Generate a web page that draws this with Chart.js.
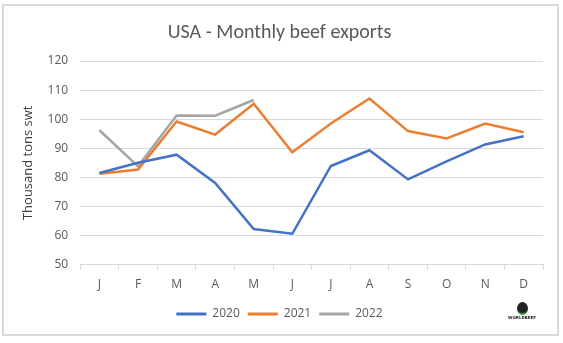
<!DOCTYPE html>
<html>
<head>
<meta charset="utf-8">
<script src="https://cdn.jsdelivr.net/npm/chart.js@4.4.0/dist/chart.umd.min.js"></script>
<style>
  body { margin: 0; background: #fff; }
  #wrap { position: relative; width: 563px; height: 343px; }
  #frame { position: absolute; left: 2px; top: 4px; width: 553px; height: 328px; border: 2px solid #d9d9d9; pointer-events: none; }
  #logo { position: absolute; left: 505px; top: 302px; width: 34px; text-align: center; font-family: "DejaVu Sans", sans-serif; }
  #logo .globe { width: 11px; height: 11px; margin: 0 auto; border-radius: 50%; background: #222; border-bottom: 2px solid #2e9a3a; }
  #logo .txt { font-size: 4px; font-weight: bold; color: #222; line-height: 5px; }
</style>
</head>
<body>
<div id="wrap">
  <canvas id="beefExportsGraph" width="563" height="343"></canvas>
  <div id="frame"></div>
  <div id="logo"><div class="globe"></div><div class="txt">WORLDBEEF</div></div>
</div>
<script>
// chart data
const months = ["J", "F", "M", "A", "M", "J", "J", "A", "S", "O", "N", "D"];
const exports2020 = [81.5, 85.0, 87.8, 78.1, 62.2, 60.6, 83.9, 89.3, 79.3, 85.5, 91.3, 94.1];
const exports2021 = [81.2, 82.7, 99.2, 94.7, 105.3, 88.6, 98.5, 107.1, 95.9, 93.4, 98.5, 95.5];
const exports2022 = [96.2, 83.8, 101.3, 101.2, 106.6];
const yTicks = [50, 60, 70, 80, 90, 100, 110, 120];

const textColor = "#595959";
const gridColor = "#d9d9d9";

function make_dataset(label, values, color) {
    return {
        label: label,
        data: values,
        borderColor: color,
        backgroundColor: color,
        borderWidth: 2.5,
        pointRadius: 0,
        tension: 0,
        fill: false
    };
}

const config = {
    type: "line",
    data: {
        labels: months,
        datasets: [
            make_dataset("2020", exports2020, "#4472C4"),
            make_dataset("2021", exports2021, "#ED7D31"),
            make_dataset("2022", exports2022, "#A5A5A5")
        ]
    },
    options: {
        responsive: false,
        animation: false,
        layout: { padding: { left: 16, right: 20, top: 19, bottom: 13 } },
        plugins: {
            title: {
                display: true,
                text: "USA - Monthly beef exports",
                color: textColor,
                font: { family: "Calibri, Carlito, 'Open Sans', sans-serif", size: 20, weight: "normal" },
                padding: { top: 2, bottom: 16 }
            },
            legend: {
                position: "bottom",
                labels: {
                    color: textColor,
                    font: { family: "'Open Sans', sans-serif", size: 12 },
                    boxWidth: 30,
                    boxHeight: 0,
                    padding: 8,
                    generateLabels: chart => chart.data.datasets.map((ds, i) => ({
                        text: ds.label,
                        fillStyle: ds.borderColor,
                        strokeStyle: ds.borderColor,
                        lineWidth: 3,
                        fontColor: textColor,
                        datasetIndex: i
                    }))
                }
            },
            tooltip: { enabled: false }
        },
        scales: {
            x: {
                offset: true,
                grid: {
                    offset: true,
                    drawOnChartArea: false,
                    drawTicks: true,
                    tickLength: 5,
                    color: gridColor
                },
                border: { color: gridColor },
                ticks: {
                    color: textColor,
                    font: { family: "'Open Sans', sans-serif", size: 12 },
                    padding: 8,
                    maxRotation: 0,
                    autoSkip: false
                }
            },
            y: {
                min: yTicks[0],
                max: yTicks[yTicks.length - 1],
                afterBuildTicks: axis => { axis.ticks = yTicks.map(v => ({ value: v })); },
                grid: { color: gridColor, drawTicks: false },
                border: { display: false },
                ticks: {
                    color: textColor,
                    font: { family: "'Open Sans', sans-serif", size: 12 },
                    padding: 12
                },
                title: {
                    display: true,
                    text: "Thousand tons swt",
                    color: "#404040",
                    font: { family: "'Open Sans', sans-serif", size: 13 },
                    padding: { bottom: 0 }
                }
            }
        }
    }
};

new Chart("beefExportsGraph", config);
</script>
</body>
</html>
